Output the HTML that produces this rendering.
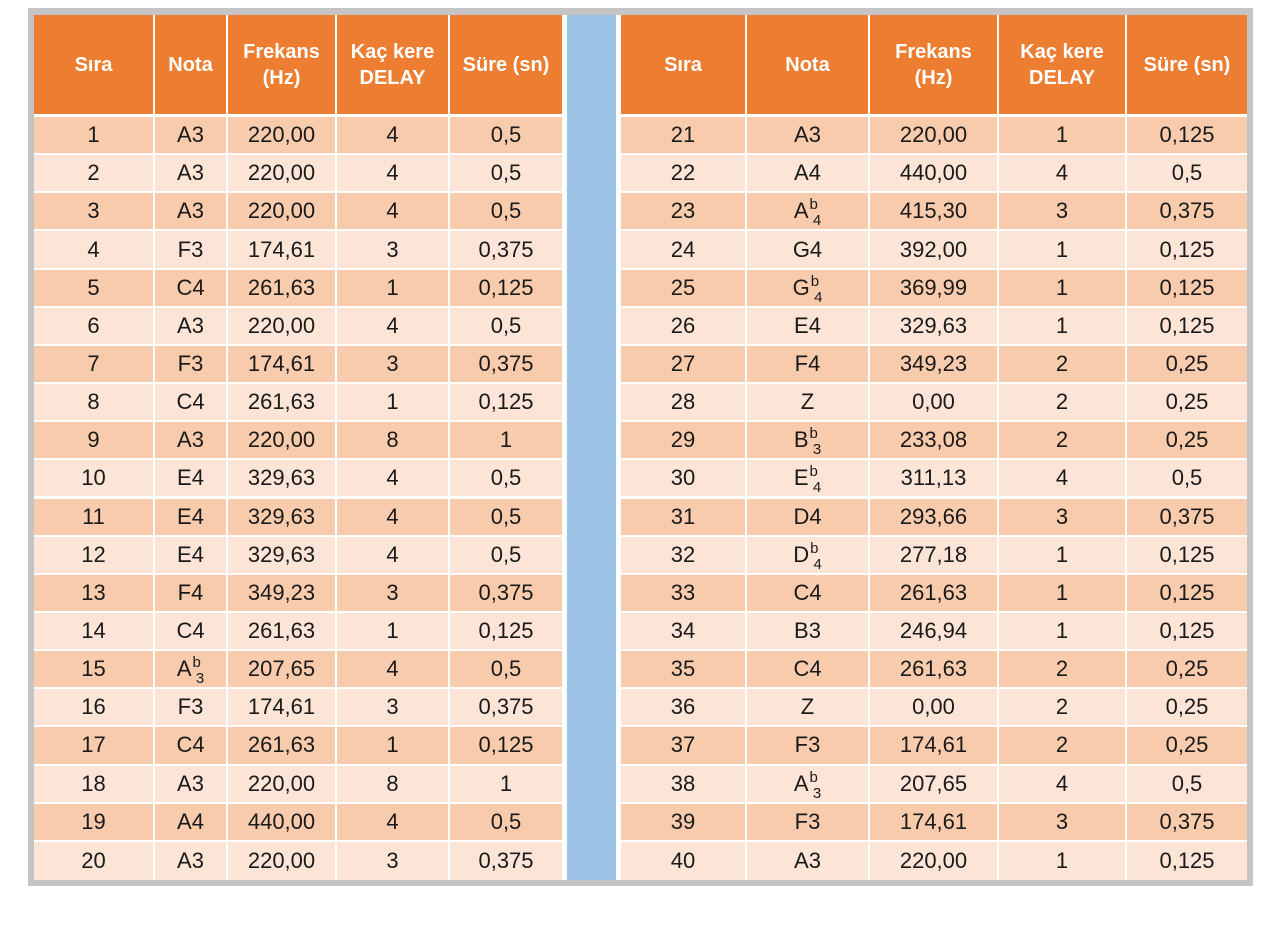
<!DOCTYPE html>
<html><head><meta charset="utf-8">
<style>
html,body{margin:0;padding:0;background:#fff;width:1280px;height:926px;overflow:hidden;}
#wrap{position:relative;width:1280px;height:926px;font-family:"Liberation Sans",sans-serif;}
.c{position:absolute;display:flex;align-items:center;justify-content:center;text-align:center;box-sizing:border-box;color:#1a1a1a;font-size:22px;}
.c span{display:inline-block;white-space:nowrap;}
.h{background:#ED7D31;color:#fff;font-weight:bold;font-size:20px;line-height:26px;}
.d{background:#F8CBAD;}
.l{background:#FCE4D6;}
sup{font-size:15px;position:relative;top:-9px;vertical-align:baseline;margin-left:1px;}
sub{font-size:15px;position:relative;top:7px;vertical-align:baseline;}
</style></head>
<body>
<div id="wrap">
  <div style="position:absolute;left:28px;top:8px;width:1225px;height:878px;background:#c4c4c4;"></div>
  <div style="position:absolute;left:34px;top:15px;width:1213px;height:865px;background:#fff;"></div>
  <div style="position:absolute;left:567px;top:15px;width:49px;height:865px;background:#9DC3E6;"></div>
</div>
<script>
const headers = ["Sıra","Nota","Frekans<br>(Hz)","Kaç kere<br>DELAY","Süre (sn)"];
const notes = ["A3","A3","A3","F3","C4","A3","F3","C4","A3","E4","E4","E4","F4","C4","Ab3","F3","C4","A3","A4","A3",
"A3","A4","Ab4","G4","Gb4","E4","F4","Z","Bb3","Eb4","D4","Db4","C4","B3","C4","Z","F3","Ab3","F3","A3"];
const freqs = ["220,00","220,00","220,00","174,61","261,63","220,00","174,61","261,63","220,00","329,63","329,63","329,63","349,23","261,63","207,65","174,61","261,63","220,00","440,00","220,00",
"220,00","440,00","415,30","392,00","369,99","329,63","349,23","0,00","233,08","311,13","293,66","277,18","261,63","246,94","261,63","0,00","174,61","207,65","174,61","220,00"];
const delays = [4,4,4,3,1,4,3,1,8,4,4,4,3,1,4,3,1,8,4,3, 1,4,3,1,1,1,2,2,2,4,3,1,1,1,2,2,2,4,3,1];
const durations = ["0,5","0,5","0,5","0,375","0,125","0,5","0,375","0,125","1","0,5","0,5","0,5","0,375","0,125","0,5","0,375","0,125","1","0,5","0,375",
"0,125","0,5","0,375","0,125","0,125","0,125","0,25","0,25","0,25","0,5","0,375","0,125","0,125","0,125","0,25","0,25","0,25","0,5","0,375","0,125"];
const colNames = ["sira","nota","frekans","delay","sure"];
const leftCols=[[34,119],[155,71],[228,107],[337,111],[450,112]];
const rightCols=[[621,124],[747,121],[870,127],[999,126],[1127,120]];
const wrap=document.getElementById('wrap');
function noteHtml(n){
  if(n.length===3&&n[1]==='b') return n[0]+'<sup>b</sup><sub style="margin-left:-5px">'+n[2]+'</sub>';
  return n;
}
function cell(x,y,w,h,cls,html){
  const el=document.createElement('div');
  el.className='c '+cls;
  el.style.left=x+'px';el.style.top=y+'px';el.style.width=w+'px';el.style.height=h+'px';
  el.innerHTML='<span>'+html+'</span>';
  wrap.appendChild(el);
  return el;
}
[leftCols,rightCols].forEach((cols,side)=>{
  cols.forEach((c,j)=>{
    const e=cell(c[0],15,c[1],99,'h',headers[j]);
    
    
  });
  for(let r=0;r<20;r++){
    const i=side*20+r;
    const y=117+r*38.15;
    const vals=[String(i+1),noteHtml(notes[i]),freqs[i],String(delays[i]),durations[i]];
    cols.forEach((c,j)=>{
      const e=cell(c[0],y,c[1],r===19?880-y:36.15,r%2?'l':'d',vals[j]);
      
      
    });
  }
});
</script>
</body></html>
